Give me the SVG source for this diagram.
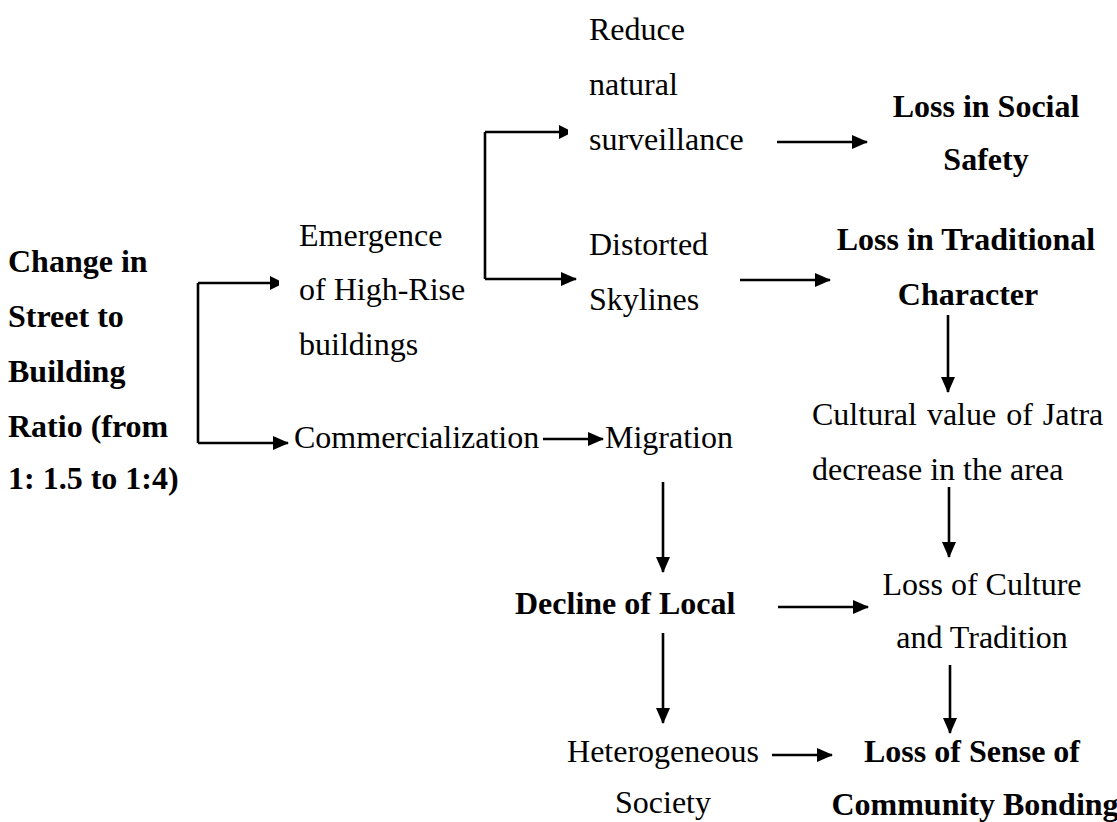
<svg xmlns="http://www.w3.org/2000/svg" width="1117" height="822" viewBox="0 0 1117 822">
  <style>
    text { font-size: 32px; fill: #000; }
    .b { font-weight: bold; }
    .m { text-anchor: middle; }
    .c { fill: none; stroke: #000; stroke-width: 2.6; }
  </style>
  <defs>
    <marker id="ah" markerWidth="16" markerHeight="14" refX="15" refY="7" orient="auto" markerUnits="userSpaceOnUse">
      <path d="M0,0 L16,7 L0,14 Z" fill="#000"/>
    </marker>
    <marker id="ahs" markerWidth="10" markerHeight="14" refX="9" refY="7" orient="auto" markerUnits="userSpaceOnUse">
      <path d="M0,0 L9,4.5 L9,9.5 L0,14 Z" fill="#000"/>
    </marker>
  </defs>
  <rect width="1117" height="822" fill="#fff"/>

  <!-- connectors -->
  <g id="connectors" class="c">
    <path d="M198,283 V443"/>
    <path d="M198,283 H279" marker-end="url(#ahs)"/>
    <path d="M198,443 H288" marker-end="url(#ah)"/>
    <path d="M485,132 V279"/>
    <path d="M485,132 H568" marker-end="url(#ahs)"/>
    <path d="M485,279 H576" marker-end="url(#ah)"/>
    <path d="M543,439 H603" marker-end="url(#ah)"/>
    <path d="M777,142 H867" marker-end="url(#ah)"/>
    <path d="M740,280 H830" marker-end="url(#ah)"/>
    <path d="M948,315 V392" marker-end="url(#ah)"/>
    <path d="M949,487 V557" marker-end="url(#ah)"/>
    <path d="M663,482 V572" marker-end="url(#ah)"/>
    <path d="M778,607 H868" marker-end="url(#ah)"/>
    <path d="M663,633 V723" marker-end="url(#ah)"/>
    <path d="M772,755 H832" marker-end="url(#ah)"/>
    <path d="M950,665 V733" marker-end="url(#ah)"/>
  </g>

  <!-- nodes -->
  <g font-family="'Liberation Serif', 'Times New Roman', Times, serif">
  <g id="change-ratio">
    <text class="b" x="8" y="272">Change in</text>
    <text class="b" x="8" y="327">Street to</text>
    <text class="b" x="8" y="382">Building</text>
    <text class="b" x="8" y="437">Ratio (from</text>
    <text class="b" x="8" y="489">1: 1.5 to 1:4)</text>
  </g>
  <g id="high-rise">
    <text x="299" y="246">Emergence</text>
    <text x="299" y="300">of High-Rise</text>
    <text x="299" y="355">buildings</text>
  </g>
  <g id="commercialization">
    <text x="294" y="448">Commercialization</text>
  </g>
  <g id="migration">
    <text x="605" y="448">Migration</text>
  </g>
  <g id="surveillance">
    <text x="589" y="40">Reduce</text>
    <text x="589" y="95">natural</text>
    <text x="589" y="150">surveillance</text>
  </g>
  <g id="skylines">
    <text x="589" y="255">Distorted</text>
    <text x="589" y="310">Skylines</text>
  </g>
  <g id="social-safety">
    <text class="b m" x="986" y="117">Loss in Social</text>
    <text class="b m" x="986" y="170">Safety</text>
  </g>
  <g id="traditional-character">
    <text class="b m" x="966" y="250">Loss in Traditional</text>
    <text class="b m" x="968" y="305">Character</text>
  </g>
  <g id="jatra">
    <text x="812" y="425" word-spacing="2">Cultural value of Jatra</text>
    <text x="812" y="480">decrease in the area</text>
  </g>
  <g id="culture-tradition">
    <text class="m" x="982" y="595">Loss of Culture</text>
    <text class="m" x="982" y="648">and Tradition</text>
  </g>
  <g id="decline-local">
    <text class="b" x="515" y="614">Decline of Local</text>
  </g>
  <g id="heterogeneous">
    <text class="m" x="663" y="762">Heterogeneous</text>
    <text class="m" x="663" y="813">Society</text>
  </g>
  <g id="community-bonding">
    <text class="b m" x="972" y="762">Loss of Sense of</text>
    <text class="b m" x="975" y="815">Community Bonding</text>
  </g>
  </g>
</svg>
